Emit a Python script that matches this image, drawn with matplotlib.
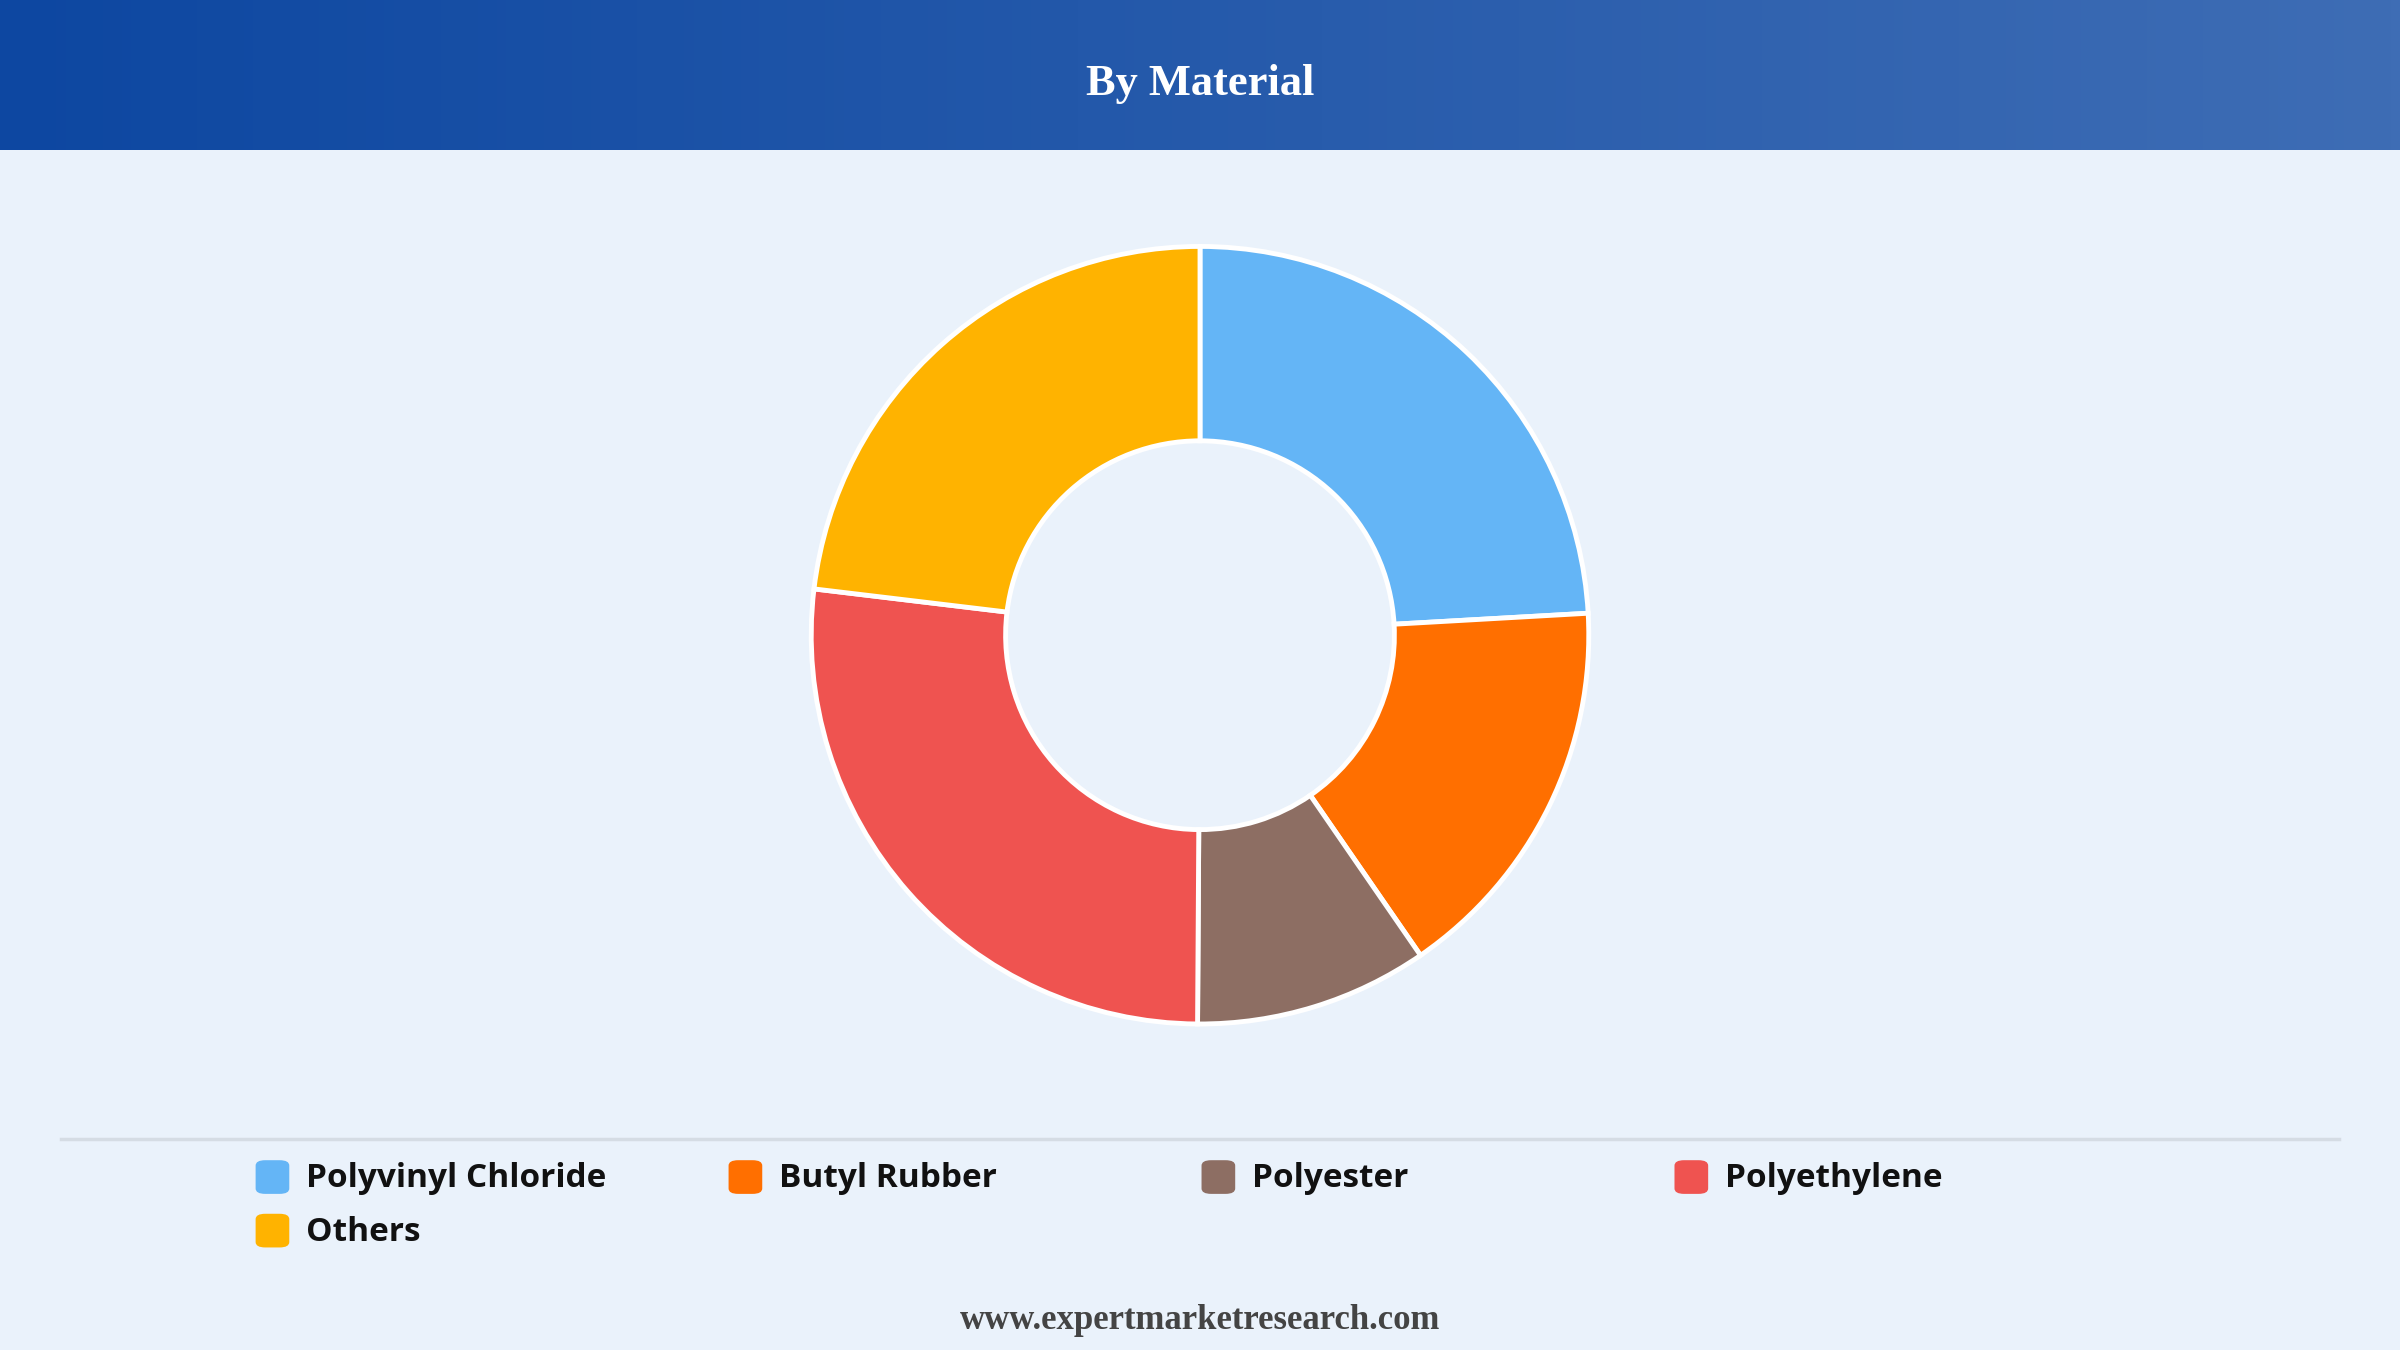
import matplotlib
matplotlib.use("Agg")
import matplotlib.pyplot as plt
import numpy as np
from matplotlib.patches import FancyBboxPatch
from matplotlib.colors import LinearSegmentedColormap

categories = ["Polyvinyl Chloride", "Butyl Rubber", "Polyester", "Polyethylene", "Others"]
shares = [24.1, 16.3, 9.7, 26.8, 23.1]
colors = ["#64B5F6", "#FF6F00", "#8D6E63", "#EF5350", "#FFB300"]

W, H = 1568.0, 882.0  # reference layout units

fig = plt.figure(figsize=(24, 13.5), dpi=100)
fig.patch.set_facecolor("#EAF2FB")

# header gradient band
hdr = fig.add_axes([0, 1 - 98 / H, 1, 98 / H])
grad = np.linspace(0, 1, 256).reshape(1, -1)
cmap = LinearSegmentedColormap.from_list("hdr", ["#0D47A1", "#3E6DB5"])
hdr.imshow(grad, aspect="auto", cmap=cmap, extent=[0, 1, 0, 1])
hdr.set_axis_off()
hdr.text(0.5, 0.44, "By Material", ha="center", va="center", color="white",
         fontsize=32, fontweight="bold", family="Liberation Serif")

# donut
cx, cy, r = 784 / W, 1 - 415 / H, 254
ax = fig.add_axes([cx - r / W, cy - r / H, 2 * r / W, 2 * r / H])
ax.pie(shares, colors=colors, startangle=90, counterclock=False, radius=1,
       wedgeprops=dict(width=0.5, edgecolor="white", linewidth=3.5))
ax.set_xlim(-1.0, 1.0); ax.set_ylim(-1.0, 1.0)
ax.set_aspect("equal")
ax.set_axis_off()

# separator
fig.add_artist(plt.Line2D([40 / W, 1528 / W], [1 - 744 / H] * 2,
                          color="#D5DCE4", linewidth=2.5))

# legend
cols = [166, 475, 784, 1093]
rows = [769, 804]
for i, (name, c) in enumerate(zip(categories, colors)):
    x = cols[i % 4]
    y = rows[i // 4]
    s = 22
    fig.add_artist(FancyBboxPatch(((x + 1) / W, 1 - (y + s / 2) / H), s / W, s / H,
                                  boxstyle="round,pad=0,rounding_size=0.004",
                                  facecolor=c, edgecolor="none",
                                  transform=fig.transFigure))
    fig.text((x + 34) / W, 1 - (y + 1) / H, name, ha="left", va="center",
             fontsize=24, fontweight="bold", family="Open Sans", color="#111111")

fig.text(0.5, 1 - 863 / H, "www.expertmarketresearch.com", ha="center", va="center",
         fontsize=25, fontweight="bold", family="Liberation Serif", color="#444444")

fig.savefig("out.png", dpi=100, facecolor=fig.get_facecolor())
